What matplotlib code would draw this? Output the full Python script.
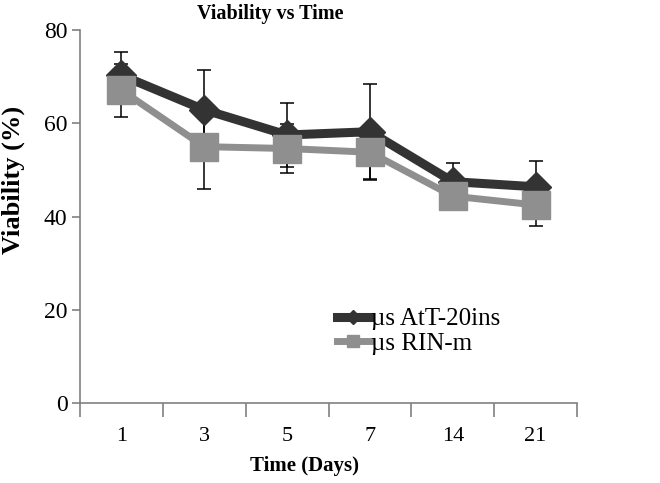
import matplotlib.pyplot as plt
import numpy as np

# data
days = ['1', '3', '5', '7', '14', '21']
att20 = [70.3, 62.9, 57.5, 58.2, 47.5, 46.4]
att20_err = [4.9, 8.5, 6.9, 10.2, 4.1, 5.6]
rinm = [67.1, 55.0, 54.6, 53.8, 44.4, 42.5]
rinm_err = [5.7, 9.1, 5.2, 5.9, 3.0, 4.6]

plt.rcParams['font.family'] = ['Liberation Serif', 'DejaVu Serif']

DARK = '#333333'
GREY = '#8f8f8f'
AXIS = '#808080'

fig = plt.figure(figsize=(6.6, 4.83), dpi=100)
ax = fig.add_axes([80/660, 1 - 403.3/483, 497/660, 373.3/483])

x = np.arange(len(days))

# error bars sit behind the markers
ax.errorbar(x, att20, yerr=att20_err, fmt='none', ecolor='black',
            elinewidth=1.1, capsize=4.7, capthick=1.1, zorder=1)
ax.errorbar(x, rinm, yerr=rinm_err, fmt='none', ecolor='black',
            elinewidth=1.1, capsize=4.7, capthick=1.1, zorder=1)

ax.plot(x, att20, color=DARK, linewidth=6.5, marker='D', markersize=15,
        label='µs AtT-20ins', zorder=3)
ax.plot(x, rinm, color=GREY, linewidth=5, marker='s', markersize=20,
        label='µs RIN-m', zorder=4)

ax.set_xlim(-0.5, len(days) - 0.5)
ax.set_ylim(0, 80)
ax.set_yticks([0, 20, 40, 60, 80])

# category boundaries as major ticks, labels on minor ticks
ax.set_xticks(np.arange(-0.5, len(days), 1.0))
ax.set_xticklabels([])
ax.set_xticks(x, minor=True)
ax.set_xticklabels(days, minor=True)
ax.tick_params(axis='x', which='major', length=10, width=1.2, color=AXIS, direction='out')
ax.tick_params(axis='x', which='minor', length=0, pad=17, labelsize=16)
ax.tick_params(axis='y', length=6, width=1.2, color=AXIS, labelsize=17, pad=3)

for side in ['top', 'right']:
    ax.spines[side].set_visible(False)
for side in ['left', 'bottom']:
    ax.spines[side].set_color(AXIS)
    ax.spines[side].set_linewidth(1.2)

fig.text(270/660, 1 - 14/483, 'Viability vs Time', ha='center', va='center',
         fontsize=14.5, fontweight='bold')
fig.text(13/660, 1 - 180/483, 'Viability (%)', rotation=90, ha='center', va='center',
         fontsize=19, fontweight='bold')
fig.text(305/660, 1 - 466/483, 'Time (Days)', ha='center', va='center',
         fontsize=15, fontweight='bold')

leg = ax.legend(loc='upper left', bbox_to_anchor=(327/660, 1 - 298/483),
                bbox_transform=fig.transFigure, frameon=False, fontsize=18,
                handlelength=1.3, handletextpad=0.05, labelspacing=0.08,
                markerscale=0.45, borderaxespad=0)

plt.savefig('out.png', dpi=100)
